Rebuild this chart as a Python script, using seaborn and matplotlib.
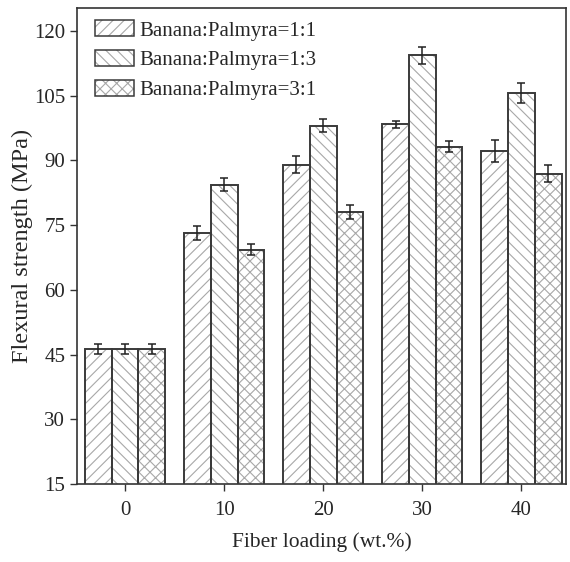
import numpy as np
import pandas as pd
import matplotlib
matplotlib.use("Agg")
import matplotlib.pyplot as plt
import seaborn as sns
from matplotlib.patches import Patch, Rectangle
from matplotlib.legend_handler import HandlerTuple

loadings = ["0", "10", "20", "30", "40"]
series = ["Banana:Palmyra=1:1", "Banana:Palmyra=1:3", "Banana:Palmyra=3:1"]
vals_11 = [46.3, 73.2, 89.0, 98.4, 92.1]
vals_13 = [46.3, 84.4, 98.0, 114.3, 105.6]
vals_31 = [46.3, 69.3, 78.0, 93.2, 86.9]
err_11 = [1.2, 1.6, 2.0, 0.8, 2.6]
err_13 = [1.2, 1.6, 1.5, 1.9, 2.4]
err_31 = [1.2, 1.2, 1.6, 1.3, 2.0]

yticks = [15, 30, 45, 60, 75, 90, 105, 120]

sns.set_style("ticks")
plt.rcParams['font.family'] = ['Liberation Serif', 'DejaVu Serif']
plt.rcParams['hatch.linewidth'] = 0.8

HATCH_C = "#a8a8a8"
EDGE_C = "#3a3a3a"

vals = [vals_11, vals_13, vals_31]
errs = [err_11, err_13, err_31]
rows = []
for s, v in zip(series, vals):
    for l, x in zip(loadings, v):
        rows.append({"loading": l, "series": s, "value": x})
df = pd.DataFrame(rows)

fig = plt.figure(figsize=(5.70, 5.62), dpi=100)
ax = fig.add_axes([77/570, 1-484/562, (566-77)/570, (484-8)/562])

sns.barplot(data=df, x="loading", y="value", hue="series", order=loadings,
            hue_order=series, ax=ax, errorbar=None, width=0.81,
            palette=["white"]*3, edgecolor=HATCH_C, linewidth=0,
            legend=False)

hatches = ["///", "\\\\\\", "xxx"]
bar_conts = list(ax.containers)
for i, cont in enumerate(bar_conts):
    for bar in cont.patches:
        bar.set_hatch(hatches[i])
        bar.set_facecolor("white")
        bar.set_edgecolor(HATCH_C)
        bar.set_linewidth(0)
        ax.add_patch(Rectangle((bar.get_x(), bar.get_y()), bar.get_width(), bar.get_height(),
                               fill=False, edgecolor=EDGE_C, linewidth=1.4, zorder=3))
    xs = [b.get_x() + b.get_width()/2 for b in cont.patches]
    hs = [b.get_height() for b in cont.patches]
    ax.errorbar(xs, hs, yerr=errs[i], fmt="none", ecolor="#222222",
                elinewidth=1.1, capsize=3, capthick=1.1, zorder=5)

ax.set_ylim(15, 125.3)
ax.set_xlim(-0.485, 4.45)
ax.set_yticks(yticks)
ax.set_yticklabels([str(t) for t in yticks])
ax.tick_params(axis="both", labelsize=15, direction="out", length=5, width=1, color="#333333")
ax.tick_params(axis="x", pad=7)
ax.set_xlabel("Fiber loading (wt.%)", fontsize=15.5, labelpad=9)
ax.set_ylabel("Flexural strength (MPa)", fontsize=17.5, labelpad=1)
for sp in ax.spines.values():
    sp.set_linewidth(1.2)
    sp.set_color("#333333")

handles = [(Patch(facecolor="white", edgecolor=HATCH_C, hatch=h, linewidth=0),
            Patch(fill=False, edgecolor=EDGE_C, linewidth=1.1)) for h in hatches]
ax.legend(handles, series, loc="upper left", frameon=False, fontsize=15,
          handler_map={tuple: HandlerTuple(ndivide=1)},
          handlelength=1.85, handleheight=0.8, handletextpad=0.25,
          labelspacing=0.45, borderaxespad=0.0, borderpad=0.3,
          bbox_to_anchor=(0.025, 0.987))

fig.savefig("out.png", dpi=100)
